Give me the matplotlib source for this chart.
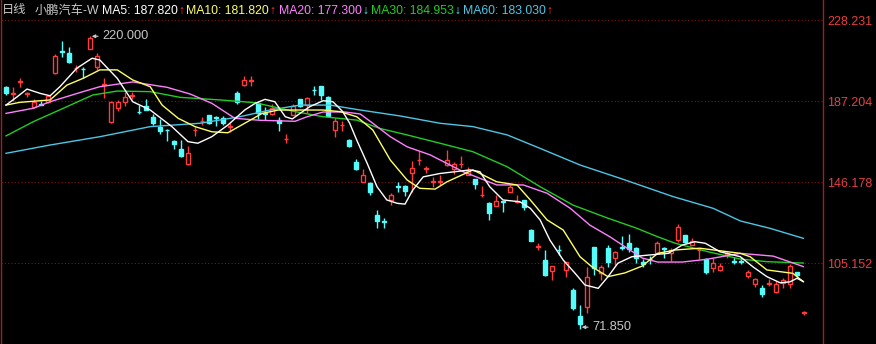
import matplotlib
matplotlib.use('Agg')
import matplotlib.pyplot as plt
import numpy as np

# ---------------- data ----------------
opens = [194.5, 190.8, 196.8, 190.9, 184.1, 185.8, 186.6, 201.6, 212.7, 211.4,
         203.8, 203.7, 213.6, 204.6, 195.5, 176.8, 183.9, 186.6, 189.8, 181.9,
         184.7, 179.0, 174.3, 172.8, 167.2, 162.8, 155.4, 172.4, 176.9, 180.2,
         179.2, 178.5, 174.0, 191.5, 195.3, 197.3, 186.1, 181.2, 180.7, 177.6,
         167.8, 180.2, 188.1, 185.2, 193.0, 194.8, 189.4, 172.6, 174.9, 167.5,
         156.6, 146.4, 145.9, 129.6, 126.4, 137.2, 144.4, 144.2, 151.0, 157.2,
         153.0, 146.2, 146.2, 154.9, 152.7, 155.2, 149.8, 147.6, 139.5, 135.8,
         134.3, 136.5, 141.4, 136.1, 137.2, 122.0, 113.4, 106.8, 101.4, 112.1,
         101.8, 91.7, 78.5, 83.2, 113.2, 100.1, 112.7, 107.6, 113.4, 115.3,
         112.7, 106.0, 107.5, 110.2, 112.9, 110.5, 116.9, 119.5, 114.4, 111.7,
         107.2, 102.6, 101.8, 110.0, 106.2, 106.2, 98.7, 94.7, 92.5, 94.8,
         90.8, 95.0, 94.7, 100.9, 80.0]
closes = [191.5, 191.2, 197.2, 191.3, 186.9, 185.4, 189.8, 210.0, 212.3, 207.1,
          204.2, 203.3, 219.0, 210.0, 195.9, 186.9, 186.6, 189.4, 190.2, 181.5,
          182.7, 175.9, 172.2, 172.4, 165.5, 159.4, 161.1, 172.8, 177.3, 176.0,
          178.8, 176.3, 174.4, 186.9, 197.9, 197.7, 181.0, 180.8, 183.6, 176.2,
          168.2, 184.7, 184.7, 188.6, 192.6, 190.3, 179.7, 177.3, 175.3, 164.5,
          152.7, 149.8, 141.4, 126.7, 126.0, 139.7, 144.0, 141.7, 153.2, 157.6,
          153.4, 146.6, 146.6, 157.4, 155.4, 155.6, 152.0, 145.3, 139.9, 130.8,
          136.8, 136.1, 143.9, 136.5, 133.8, 116.6, 113.8, 99.2, 103.8, 111.7,
          105.7, 82.4, 74.5, 98.4, 102.6, 103.4, 106.0, 111.0, 113.0, 112.2,
          107.7, 104.6, 107.1, 115.3, 112.5, 112.0, 123.6, 116.1, 116.6, 112.1,
          100.9, 105.5, 103.8, 110.4, 105.8, 105.8, 100.9, 97.0, 89.6, 95.2,
          94.7, 96.7, 103.8, 99.2, 80.4]
highs = [194.8, 194.5, 199.0, 192.0, 188.2, 187.2, 190.3, 211.0, 217.8, 214.8,
         205.5, 204.6, 220.0, 211.3, 199.0, 187.4, 188.0, 192.0, 192.0, 185.2,
         188.3, 180.6, 178.0, 173.1, 167.4, 167.7, 164.6, 174.3, 179.3, 180.3,
         179.7, 179.5, 176.0, 192.4, 200.0, 199.9, 187.0, 184.4, 185.5, 179.0,
         170.6, 185.5, 188.5, 189.5, 194.8, 195.0, 189.8, 178.8, 177.3, 167.8,
         157.8, 152.9, 146.2, 132.3, 127.9, 140.5, 146.4, 145.0, 157.0, 162.1,
         154.4, 148.6, 149.8, 162.5, 156.2, 159.4, 154.0, 147.8, 144.2, 136.0,
         139.5, 136.8, 144.8, 139.7, 137.4, 122.3, 115.6, 111.9, 104.0, 114.4,
         105.9, 92.8, 84.0, 103.4, 113.4, 104.2, 114.4, 111.2, 118.9, 119.9,
         113.2, 107.2, 109.0, 116.2, 113.2, 113.0, 125.0, 119.7, 118.0, 112.5,
         107.6, 107.6, 105.4, 111.5, 108.5, 108.5, 101.8, 97.8, 94.2, 97.0,
         96.0, 97.5, 104.8, 100.9, 81.2]
lows = [190.3, 187.2, 194.5, 189.5, 183.7, 185.0, 186.0, 201.0, 209.7, 206.6,
        202.1, 198.7, 213.5, 202.9, 188.6, 176.3, 182.0, 184.6, 188.3, 180.5,
        182.5, 175.0, 170.7, 167.2, 162.8, 159.0, 154.9, 169.6, 175.1, 175.5,
        174.6, 175.3, 171.7, 185.5, 195.0, 194.8, 178.0, 177.6, 180.0, 172.2,
        165.9, 180.0, 184.2, 181.0, 190.3, 187.8, 179.5, 169.1, 172.3, 164.0,
        152.2, 146.2, 139.7, 123.2, 122.9, 134.7, 141.4, 139.0, 141.4, 154.9,
        151.0, 143.9, 144.8, 154.5, 150.5, 153.2, 149.6, 142.5, 138.6, 127.1,
        134.1, 131.0, 141.2, 135.5, 131.9, 116.4, 111.9, 98.6, 96.7, 109.4,
        98.4, 81.5, 71.85, 79.9, 99.2, 96.7, 103.4, 104.4, 111.9, 111.0,
        105.2, 103.4, 105.0, 110.0, 108.0, 106.5, 116.0, 115.5, 114.2, 107.5,
        99.6, 101.0, 101.4, 107.8, 105.0, 105.0, 97.8, 93.3, 87.9, 93.5,
        90.3, 92.9, 92.5, 98.4, 79.0]

ma5_x = [0, 1.6, 3, 4.9, 6.3, 7.7, 10.1, 12.3, 13.4, 15.9, 18.1, 20.6, 23.7, 26,
         27.4, 29.4, 31.7, 34.1, 35.6, 37, 38.4, 39.9, 40.9, 42, 43.4, 45.3, 46.7,
         48.1, 49.1, 50.1, 51.6, 53, 54.4, 55.9, 57, 58.1, 59.6, 62, 66.3, 67.7,
         69.1, 71, 73.4, 74.9, 76.3, 77.7, 79.6, 81.3, 82.7, 84.6, 86, 87.4, 89.4,
         91.7, 94.6, 96.6, 98.4, 99.9, 102, 104.9, 106.7, 108.7, 110.6, 112, 113,
         113.9]
ma5_y = [185.2, 189.4, 193.3, 191.1, 189.9, 194.5, 203.8, 208.9, 208.0, 198.7,
         186.9, 182.7, 174.3, 166.7, 165.9, 169.2, 175.1, 182.7, 186.1, 188.1,
         186.9, 179.3, 178.2, 181.0, 184.4, 187.4, 186.9, 181.9, 176.0, 167.5,
         155.7, 143.9, 137.2, 135.5, 135.1, 142.2, 148.9, 150.6, 152.4, 151.5,
         143.9, 137.2, 136.3, 133.0, 127.1, 116.9, 106.8, 100.1, 94.2, 92.5,
         98.4, 105.2, 108.5, 109.3, 110.2, 114.4, 116.1, 115.3, 111.0, 108.5,
         103.4, 98.4, 95.3, 95.8, 97.6, 95.9]

ma10_x = [0, 2, 6.3, 8.7, 11, 13.4, 15.9, 18.1, 20.6, 22.3, 24.6, 27, 29.4, 31.7,
          34.1, 36.6, 38.9, 45.3, 47.7, 50.1, 52.4, 54.9, 57.3, 59.1, 61.3, 63,
          66.7, 70.1, 73, 74.9, 77.3, 79.6, 82, 83.7, 86, 88.4, 90.9, 93.1, 95.6,
          99.1, 104.9, 106.3, 108.7, 112.4, 113.9]
ma10_y = [185.2, 186.6, 187.8, 195.3, 198.7, 203.0, 203.0, 197.9, 194.5, 185.2,
          178.5, 174.3, 171.7, 171.2, 176.0, 181.0, 182.7, 182.7, 181.9, 179.3,
          172.6, 157.4, 147.3, 143.1, 142.7, 146.4, 152.4, 146.4, 144.8, 137.2,
          127.1, 122.0, 108.5, 103.4, 98.4, 100.3, 103.8, 110.2, 111.9, 112.8,
          110.2, 108.5, 101.8, 100.1, 95.9]

ma20_x = [0, 3.9, 6.3, 11, 13.4, 18.1, 23, 26.3, 29.4, 32.7, 36.3, 41.3, 43, 45.3,
          48.4, 50.6, 52.4, 54.9, 57.3, 60.6, 65.3, 70.1, 73.9, 77.3, 80.6, 83.4,
          86.3, 88.4, 90.9, 93.1, 96.6, 100.1, 104.9, 109.6, 113.9]
ma20_y = [181.0, 183.6, 186.9, 192.0, 194.5, 196.9, 194.2, 190.8, 186.1, 178.5,
          177.5, 177.0, 179.3, 181.7, 181.7, 180.7, 176.0, 169.2, 164.1, 160.0,
          151.5, 144.8, 144.8, 140.6, 133.0, 124.5, 118.5, 113.6, 107.8, 105.8,
          105.8, 107.2, 110.2, 108.8, 103.5]

ma30_x = [0, 3.9, 8.7, 12.4, 15.9, 20.6, 24.9, 30.6, 35.6, 39.1, 41.3, 45.3, 50.1,
          53.4, 57.3, 62, 66.7, 71.6, 76.3, 81, 85.9, 90.1, 93.1, 95.6, 100.3,
          104.9, 108.7, 113.9]
ma30_y = [169.6, 176.8, 184.4, 190.3, 192.3, 192.0, 189.1, 187.8, 186.4, 183.6,
          181.9, 179.3, 177.6, 173.4, 170.1, 165.9, 161.6, 154.0, 143.9, 134.6,
          128.1, 122.9, 118.6, 115.3, 111.0, 107.3, 106.0, 105.3]

ma60_x = [0, 6.3, 13.4, 20.6, 27.7, 33.4, 37.7, 42, 46.3, 50.6, 56.3, 62, 66.7,
          71.6, 76.3, 82, 87.7, 95.3, 101, 104.9, 109.1, 113.9]
ma60_y = [160.8, 165.0, 169.2, 174.3, 176.0, 179.3, 182.7, 185.2, 185.2, 182.7,
          179.7, 176.0, 174.3, 170.1, 163.3, 154.9, 148.2, 138.9, 133.0, 126.6,
          122.9, 117.8]

price_ticks = [228.231, 187.204, 146.178, 105.152]
high_idx, high_val = 12, 220.000
low_idx, low_val = 82, 71.850

title_parts = ['日线', '小鹏汽车-W']
ma_names = ['MA5', 'MA10', 'MA20', 'MA30', 'MA60']
ma_values = [187.820, 181.820, 177.300, 184.953, 183.030]
ma_arrows = ['↑', '↑', '↓', '↓', '↑']

# ---------------- style ----------------
RED = '#ff3b3b'
CYAN = '#54fcfc'
GRID = '#8c1010'
AXRED = '#a02020'
C5, C10, C20, C30, C60 = '#ffffff', '#ffff66', '#ff80ff', '#22cc22', '#4cc6e6'
GRAY = '#c8c8c8'
FONT = ['Liberation Sans', 'Noto Sans CJK SC', 'DejaVu Sans']

W, H = 876, 344
fig = plt.figure(figsize=(W / 100, H / 100), dpi=100, facecolor='black')
ax = fig.add_axes([1 / W, 0, 822 / W, 1])
ax.set_facecolor('black')

o = np.array(opens); c = np.array(closes); hi = np.array(highs); lo = np.array(lows)
x = np.arange(len(o))
up = c >= o
dn = ~up
bw = 0.68

cols = np.where(up, RED, CYAN)
ax.vlines(x, lo, np.minimum(o, c), colors=cols, lw=1.0, zorder=2)
ax.vlines(x, np.maximum(o, c), hi, colors=cols, lw=1.0, zorder=2)
ax.bar(x[up], c[up] - o[up], bottom=o[up], width=bw, facecolor='black',
       edgecolor=RED, linewidth=1.0, zorder=3)
ax.bar(x[dn], o[dn] - c[dn], bottom=c[dn], width=bw, facecolor=CYAN,
       edgecolor=CYAN, linewidth=1.0, zorder=3)

for xs, ys, col in [(ma60_x, ma60_y, C60), (ma30_x, ma30_y, C30),
                    (ma20_x, ma20_y, C20), (ma10_x, ma10_y, C10),
                    (ma5_x, ma5_y, C5)]:
    ax.plot(xs, ys, color=col, lw=1.0, zorder=4, solid_joinstyle='round')

# axes ranges (chosen so ticks line up like the reference)
ax.set_xlim(-0.714, 116.71)
ax.set_ylim(64.35, 238.35)

ax.set_xticks([])
ax.yaxis.tick_right()
ax.set_yticks(price_ticks)
ax.set_yticklabels(['%.3f' % v for v in price_ticks], color='#e84040',
                   fontsize=9.0, family=FONT)
ax.tick_params(axis='y', length=0, pad=3)
ax.grid(True, axis='y', color=GRID, linestyle=(0, (1, 2)), lw=0.8)
for s in ['top', 'bottom']:
    ax.spines[s].set_visible(False)
for s in ['left', 'right']:
    ax.spines[s].set_color(AXRED)
    ax.spines[s].set_linewidth(1.0)

ann_kw = dict(color=GRAY, fontsize=9.2, family=FONT, va='center', ha='left',
              arrowprops=dict(arrowstyle='-|>', color=GRAY, lw=0.8,
                              mutation_scale=5, shrinkA=1, shrinkB=0))
ax.annotate('%.3f' % high_val, xy=(high_idx + 0.25, high_val),
            xytext=(high_idx + 1.75, high_val), **ann_kw)
ax.annotate('%.3f' % low_val, xy=(low_idx + 0.25, low_val + 1.0),
            xytext=(low_idx + 1.75, low_val + 1.0), **ann_kw)

# ---------------- header legend ----------------
fig.canvas.draw()
renderer = fig.canvas.get_renderer()
ty = 1 - 10.5 / H


def put(px, s, color, **kw):
    t = fig.text(px / W, ty, s, color=color, fontsize=8.8, family=FONT,
                 va='center', ha='left', **kw)
    bb = t.get_window_extent(renderer)
    return bb.x1


put(2, title_parts[0], GRAY)
put(35, title_parts[1], GRAY)
starts = [102, 186, 279, 371, 463]
colors = [C5, C10, C20, C30, C60]
for sx, name, val, arr, col in zip(starts, ma_names, ma_values, ma_arrows, colors):
    end = put(sx, '%s: %.3f' % (name, val), col)
    put(end + 0.5, arr, RED if arr == '↑' else CYAN, fontweight='bold')

fig.savefig('out.png', dpi=100, facecolor='black')
